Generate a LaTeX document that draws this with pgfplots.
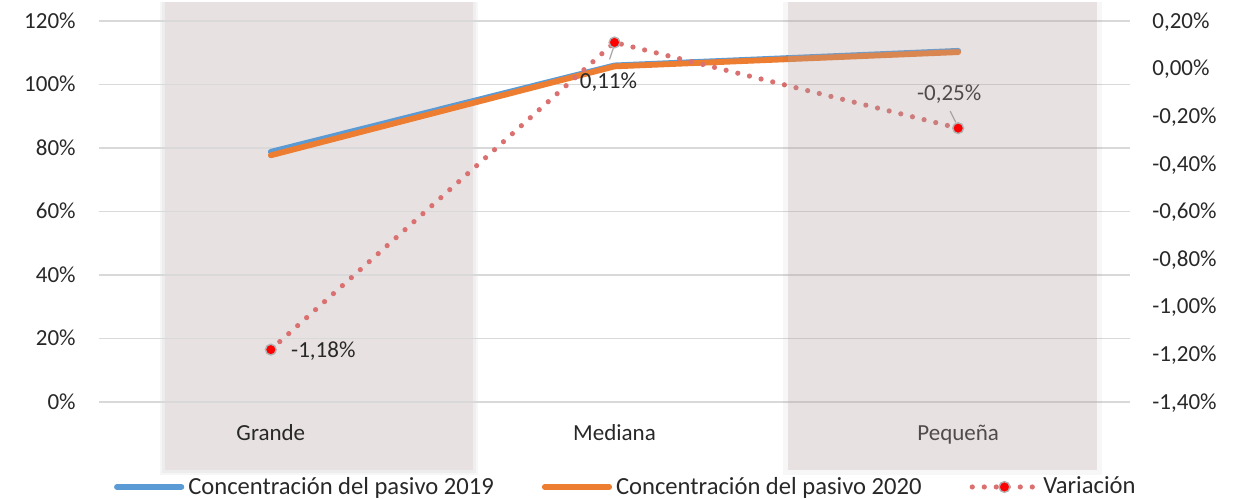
\documentclass[border=0pt]{standalone}
\usepackage{fontspec}
\setmainfont{Carlito}
\usepackage{pgfplots}
\pgfplotsset{compat=1.18}
\definecolor{c19}{RGB}{91,155,213}
\definecolor{c20}{RGB}{237,125,49}
\definecolor{cvar}{RGB}{218,112,112}
\definecolor{band}{RGB}{231,225,225}
\definecolor{bandov}{RGB}{175,155,155}
\definecolor{gridc}{RGB}{217,217,217}
\definecolor{txt}{RGB}{40,40,40}
\pgfplotsset{base/.style={scale only axis, width=515.5pt, height=190.5pt,
  at={(0,0)}, anchor=south west, xmin=-0.5, xmax=2.5, clip=false,
  major tick length=0pt, axis line style={draw=none}}}
\begin{document}
\begin{tikzpicture}[font=\fontsize{11.5}{13.8}\selectfont]
% background band (Grande)
\begin{axis}[base, ymin=0, ymax=120, hide axis]
\foreach \s in {2.4,1.6,0.8}{
  \edef\tmp{\noexpand\fill[black, opacity=0.035, rounded corners=\s pt] (axis cs:-0.308,-21.4) ++(-\s pt,-\s pt) rectangle ($(axis cs:0.588,126)+(\s pt,\s pt)$);}
}
\fill[black, opacity=0.035] (axis cs:-0.308,-21.4) ++(-2.4pt,-2.4pt) rectangle (axis cs:0.588,126);
\fill[black, opacity=0.035] (axis cs:-0.308,-21.4) ++(-1.4pt,-1.4pt) rectangle (axis cs:0.588,126);
\fill[black, opacity=0.03] (axis cs:0.588,-21.4) ++(2.4pt,-2.4pt) rectangle (axis cs:0.588,126);
\fill[black, opacity=0.03] (axis cs:0.588,-21.4) ++(1.4pt,-1.4pt) rectangle (axis cs:0.588,126);
\fill[band] (axis cs:-0.308,-21.4) rectangle (axis cs:0.588,126);
\end{axis}
\begin{axis}[base, ymin=0, ymax=120,
  xtick={0,1,2}, xticklabels={Grande,Mediana,Pequeña},
  ytick={0,20,40,60,80,100,120},
  yticklabels={0\%,20\%,40\%,60\%,80\%,100\%,120\%},
  ymajorgrids, grid style={gridc, line width=0.75pt},
  tick label style={text=txt},
  xticklabel style={anchor=base, inner sep=0pt, yshift=-19.2pt},
  yticklabel style={anchor=base east, inner sep=0pt, xshift=-11.5pt, yshift=-3.6pt}]
\addplot[c19, line width=2.9pt, line cap=round, line join=round] coordinates {(0,78.8)(1,106.0)(2,110.6)};
\addplot[c20, line width=2.9pt, line cap=round, line join=round] coordinates {(0,77.7)(1,105.7)(2,110.2)};
\end{axis}
\begin{axis}[base, ymin=-1.4, ymax=0.2,
  axis x line=none, axis y line*=right,
  ytick={-1.4,-1.2,-1,-0.8,-0.6,-0.4,-0.2,0,0.2},
  yticklabels={{-1,40\%},{-1,20\%},{-1,00\%},{-0,80\%},{-0,60\%},{-0,40\%},{-0,20\%},{0,00\%},{0,20\%}},
  tick label style={text=txt},
  yticklabel style={anchor=base west, inner sep=0pt, xshift=11pt, yshift=-3.6pt},
  legend style={at={(0.511,-0.223)}, anchor=center, draw=none, fill=none, legend columns=3,
    font=\fontsize{12.3}{14}\selectfont,
    /tikz/every even column/.append style={column sep=23pt},
    /tikz/every odd column/.append style={column sep=1pt},
    nodes={inner sep=1pt, text=txt}},
  legend image code/.code={\draw[#1, mark repeat=2, mark phase=2] plot coordinates {(1.4pt,0pt)(17.5pt,0pt)(33.6pt,0pt)};}]
\addlegendimage{c19, line width=2.9pt, line cap=round}
\addlegendentry{Concentración del pasivo 2019}
\addlegendimage{c20, line width=2.9pt, line cap=round}
\addlegendentry{Concentración del pasivo 2020}
\addplot[cvar, line width=2.6pt, line cap=round, dash pattern=on 0pt off 6pt,
  mark=*, mark size=2.7pt, mark options={solid, fill=red, draw=gray!60, line width=0.7pt}]
  coordinates {(0,-1.18)(1,0.11)(2,-0.25)};
\addlegendentry{Variación}
\node[anchor=base west, inner sep=0pt, text=txt, xshift=10pt, yshift=-4.1pt] at (axis cs:0,-1.18) {-1,18\%};
\node[anchor=base, inner sep=0pt, text=txt, xshift=-3pt, yshift=-23.1pt] at (axis cs:1,0.11) {0,11\%};
\draw[gray!70, line width=0.6pt] (axis cs:1,0.11) ++(-0.6pt,-2.9pt) -- ++(-1.9pt,-5.6pt);
\node[anchor=base, inner sep=0pt, text=txt, xshift=-4.5pt, yshift=13.9pt] at (axis cs:2,-0.25) {-0,25\%};
\draw[gray!70, line width=0.6pt] (axis cs:2,-0.25) ++(-1.2pt,2.9pt) -- ++(-2.8pt,5.6pt);
\fill[black, opacity=0.03] (axis cs:1.505,-1.686) ++(-2.4pt,-2.4pt) rectangle (axis cs:1.505,0.28);
\fill[black, opacity=0.03] (axis cs:2.404,-1.686) ++(2.4pt,-2.4pt) rectangle (axis cs:2.404,0.28);
\fill[black, opacity=0.03] (axis cs:1.505,-1.686) ++(0pt,-2.4pt) rectangle (axis cs:2.404,-1.686);
\fill[bandov, opacity=0.3] (axis cs:1.505,-1.686) rectangle (axis cs:2.404,0.28);
\end{axis}
\pgfresetboundingbox
\path[use as bounding box] (-49.5pt,-48pt) rectangle (574pt,201pt);
\end{tikzpicture}
\end{document}
